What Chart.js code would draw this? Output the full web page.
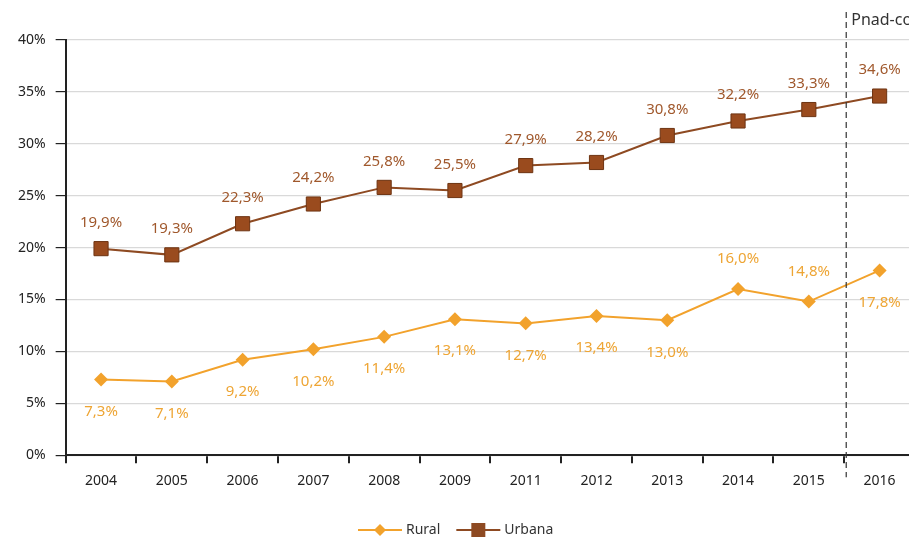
<!DOCTYPE html>
<html>
<head>
<meta charset="utf-8">
<script src="https://cdn.jsdelivr.net/npm/chart.js@4.4.0/dist/chart.umd.min.js"></script>
<style>
    body { margin: 0; background: #fff; overflow: hidden; }
    #wrap { width: 926px; height: 538px; position: relative; }
</style>
</head>
<body>
<div id="wrap"><canvas id="chart"></canvas></div>
<script>
const years = ['2004', '2005', '2006', '2007', '2008', '2009', '2011', '2012', '2013', '2014', '2015', '2016'];
const rural = [7.3, 7.1, 9.2, 10.2, 11.4, 13.1, 12.7, 13.4, 13.0, 16.0, 14.8, 17.8];
const urbana = [19.9, 19.3, 22.3, 24.2, 25.8, 25.5, 27.9, 28.2, 30.8, 32.2, 33.3, 34.6];
// rural labels sit below the point except where noted
const ruralLabelAbove = [false, false, false, false, false, false, false, false, false, true, true, false];
const pnadText = 'Pnad-contínua';

const RURAL_COLOR = '#f2a22c';
const URBANA_COLOR = '#8e4a22';
const FONT = '"Noto Sans", "DejaVu Sans", sans-serif';

const fmt = v => v.toFixed(1).replace('.', ',') + '%';

// data labels + dashed separator + legend
const extras = {
    id: 'extras',
    afterDatasetsDraw(chart) {
        const ctx = chart.ctx;
        const area = chart.chartArea;
        const xs = chart.scales.x;

        // dashed line between 2015 and 2016
        const xLine = (xs.getPixelForValue(10) + xs.getPixelForValue(11)) / 2 + 2;
        ctx.save();
        ctx.strokeStyle = '#333';
        ctx.lineWidth = 1.2;
        ctx.setLineDash([6, 4]);
        ctx.beginPath();
        ctx.moveTo(xLine, 12);
        ctx.lineTo(xLine, area.bottom + 22);
        ctx.stroke();
        ctx.setLineDash([]);
        ctx.fillStyle = '#333';
        ctx.font = '16px ' + FONT;
        ctx.textAlign = 'left';
        ctx.textBaseline = 'middle';
        ctx.fillText(pnadText, xLine + 5, 20);

        // labels
        ctx.font = '15px ' + FONT;
        ctx.textAlign = 'center';
        chart.getDatasetMeta(1).data.forEach((pt, i) => {
            ctx.fillStyle = '#a0582c';
            ctx.fillText(fmt(urbana[i]), pt.x, pt.y - 26);
        });
        chart.getDatasetMeta(0).data.forEach((pt, i) => {
            ctx.fillStyle = '#eea534';
            const dy = ruralLabelAbove[i] ? -30 : 32;
            ctx.fillText(fmt(rural[i]), pt.x, pt.y + dy);
        });

        // legend
        const ly = 530;
        const items = [
            { text: 'Rural', color: RURAL_COLOR, shape: 'diamond' },
            { text: 'Urbana', color: URBANA_COLOR, shape: 'square' }
        ];
        let lx = 358;
        ctx.font = '14px ' + FONT;
        ctx.textAlign = 'left';
        items.forEach(it => {
            ctx.strokeStyle = it.color;
            ctx.lineWidth = 2;
            ctx.beginPath();
            ctx.moveTo(lx, ly);
            ctx.lineTo(lx + 44, ly);
            ctx.stroke();
            ctx.fillStyle = it.color;
            const cx = lx + 22;
            if (it.shape === 'diamond') {
                ctx.beginPath();
                ctx.moveTo(cx, ly - 6);
                ctx.lineTo(cx + 6, ly);
                ctx.lineTo(cx, ly + 6);
                ctx.lineTo(cx - 6, ly);
                ctx.closePath();
                ctx.fill();
            } else {
                ctx.fillRect(cx - 7, ly - 7, 14, 14);
            }
            ctx.fillStyle = '#333';
            ctx.fillText(it.text, lx + 48, ly);
            lx += 48 + ctx.measureText(it.text).width + 16;
        });
        ctx.restore();
    }
};

const ctx = document.getElementById('chart').getContext('2d');
new Chart(ctx, {
    type: 'line',
    data: {
        labels: years,
        datasets: [{
            label: 'Rural',
            data: rural,
            borderColor: RURAL_COLOR,
            backgroundColor: RURAL_COLOR,
            borderWidth: 2,
            pointStyle: 'rectRot',
            pointRadius: 7,
            pointBorderWidth: 0,
            tension: 0
        }, {
            label: 'Urbana',
            data: urbana,
            borderColor: URBANA_COLOR,
            backgroundColor: '#9a4b1e',
            borderWidth: 2,
            pointStyle: 'rect',
            pointRadius: 10,
            pointBorderWidth: 1,
            pointBorderColor: '#6e3412',
            tension: 0
        }]
    },
    options: {
        responsive: true,
        maintainAspectRatio: false,
        animation: false,
        layout: { padding: { top: 40, right: 8, bottom: 40, left: 8 } },
        scales: {
            x: {
                offset: true,
                grid: {
                    offset: true,
                    drawOnChartArea: false,
                    tickColor: '#222',
                    tickLength: 8,
                    lineWidth: 2
                },
                border: { color: '#222', width: 2 },
                ticks: { color: '#222', font: { family: FONT, size: 14 }, padding: 9 }
            },
            y: {
                min: 0,
                max: 40,
                grid: {
                    color: '#d9d9d9',
                    tickColor: '#222',
                    tickLength: 10,
                    lineWidth: 1.2
                },
                border: { color: '#222', width: 2 },
                ticks: {
                    stepSize: 5,
                    color: '#222',
                    font: { family: FONT, size: 14 },
                    padding: 10,
                    callback: v => v + '%'
                }
            }
        },
        plugins: {
            legend: { display: false },
            tooltip: { enabled: false }
        }
    },
    plugins: [extras]
});
</script>
</body>
</html>
